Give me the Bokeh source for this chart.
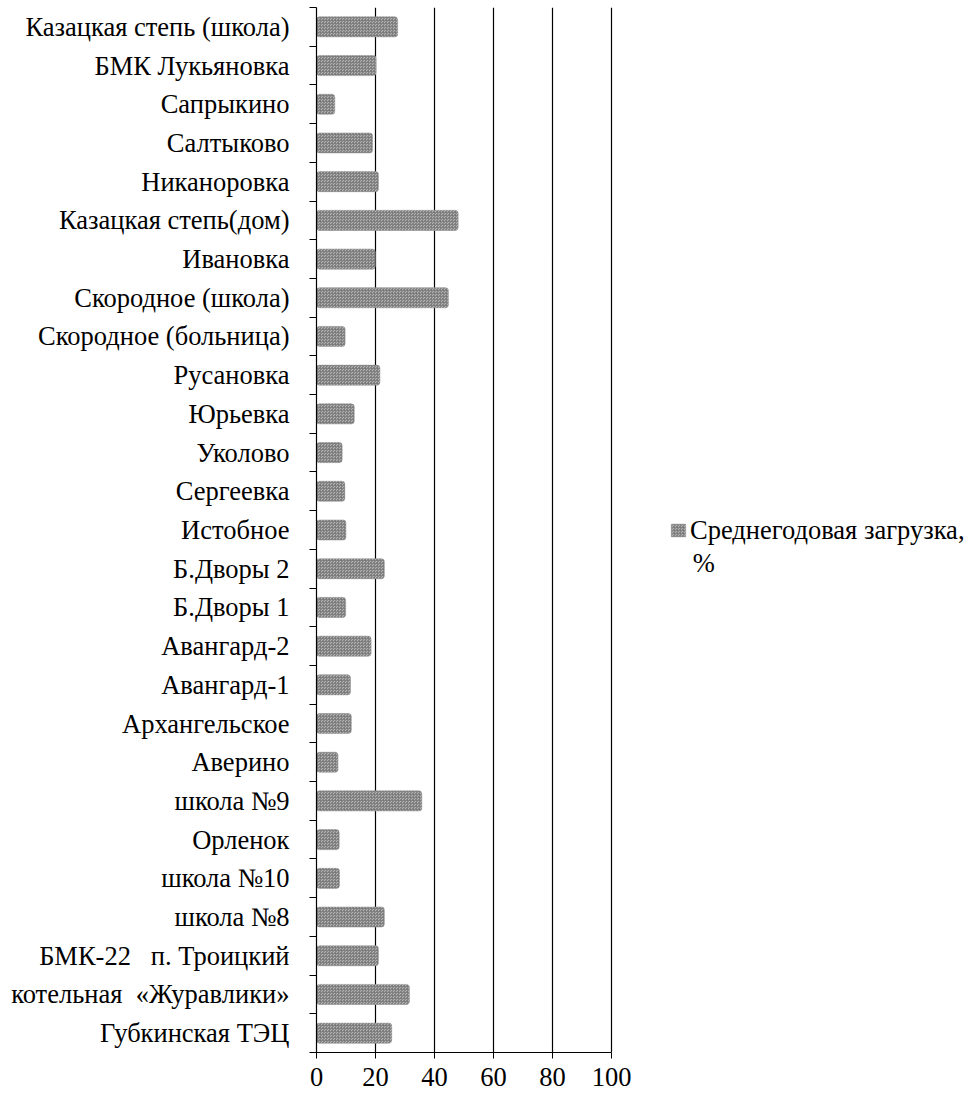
from bokeh.plotting import figure
from bokeh.models import (Range1d, FixedTicker, CustomJSTickFormatter, Legend,
                          LegendItem, ColumnDataSource, Label)
from bokeh.embed import file_html
from bokeh.resources import INLINE

# Categories, listed top to bottom as in the chart
categories = [
    "Казацкая степь (школа)",
    "БМК Лукьяновка",
    "Сапрыкино",
    "Салтыково",
    "Никаноровка",
    "Казацкая степь(дом)",
    "Ивановка",
    "Скородное (школа)",
    "Скородное (больница)",
    "Русановка",
    "Юрьевка",
    "Уколово",
    "Сергеевка",
    "Истобное",
    "Б.Дворы 2",
    "Б.Дворы 1",
    "Авангард-2",
    "Авангард-1",
    "Архангельское",
    "Аверино",
    "школа №9",
    "Орленок",
    "школа №10",
    "школа №8",
    "БМК-22\u00a0\u00a0 п. Троицкий",
    "котельная\u00a0 «Журавлики»",
    "Губкинская ТЭЦ",
]
load_pct = [27.5, 20.2, 6.2, 19.0, 21.0, 48.0, 19.9, 44.7, 9.7, 21.5, 12.8, 8.7,
            9.6, 10.0, 23.0, 9.9, 18.5, 11.5, 11.8, 7.3, 35.7, 7.7, 7.8, 23.0,
            21.0, 31.5, 25.5]
x_ticks = [0, 20, 40, 60, 80, 100]
series_name = "Среднегодовая загрузка,"
series_unit = "%"

n = len(categories)
labels_bottom_up = list(reversed(categories))
ypos = [n - 1 - i + 0.5 for i in range(n)]
src = ColumnDataSource(dict(y=ypos, v=load_pct, cat=categories))

SERIF = "Liberation Serif"
FS = "26.5px"

p = figure(frame_width=650, frame_height=1045, output_backend="svg",
           toolbar_location=None, x_range=Range1d(0, 220.3),
           y_range=Range1d(0, n), min_border_left=316, min_border_right=0,
           min_border_top=7, min_border_bottom=42)
p.outline_line_color = None
p.background_fill_color = "white"

r = p.hbar(y="y", right="v", left=0, height=0.52, source=src,
           fill_color="#b4b4b4", line_color="#9a9a9a", line_width=0.5,
           hatch_pattern="criss_cross", hatch_color="#7a7a7a",
           hatch_scale=3, hatch_weight=0.8, border_radius=3)

# x axis
xa = p.xaxis[0]
xa.ticker = FixedTicker(ticks=x_ticks, minor_ticks=[])
xa.bounds = (0, 100)
xa.axis_line_color = "black"
xa.axis_line_width = 1.2
xa.major_tick_line_color = "black"
xa.major_tick_out = 6
xa.major_tick_in = 0
xa.major_label_standoff = 9
xa.major_label_text_font = SERIF
xa.major_label_text_font_size = FS
xa.major_label_text_color = "black"

# y axis with ticks at category boundaries
ya = p.yaxis[0]
ya.ticker = FixedTicker(ticks=ypos, minor_ticks=list(range(n + 1)))
ya.formatter = CustomJSTickFormatter(args=dict(labels=labels_bottom_up),
                                     code="return labels[Math.floor(tick)];")
ya.axis_line_color = "black"
ya.axis_line_width = 1.2
ya.major_tick_line_color = None
ya.major_tick_out = 0
ya.major_tick_in = 0
ya.minor_tick_line_color = "black"
ya.minor_tick_out = 7
ya.minor_tick_in = 0
ya.major_label_standoff = 20
ya.major_label_text_font = SERIF
ya.major_label_text_font_size = FS
ya.major_label_text_color = "black"

p.xgrid.grid_line_color = "black"
p.xgrid.grid_line_width = 1.2
p.ygrid.grid_line_color = None

legend = Legend(items=[LegendItem(label=series_name, renderers=[r])],
                location=(353, 506), orientation="vertical",
                border_line_color=None, background_fill_alpha=0,
                padding=0, margin=0, glyph_width=18, glyph_height=16,
                label_standoff=3, label_text_font=SERIF,
                label_height=32,
                label_text_font_size=FS, label_text_color="black")
p.add_layout(legend)

# second line of the legend label
p.add_layout(Label(x=127.5, y=12.65, text=series_unit, text_font=SERIF,
                   text_font_size=FS, text_color="black",
                   text_baseline="middle", text_align="left"))

open("out.html", "w").write(file_html(p, INLINE))
